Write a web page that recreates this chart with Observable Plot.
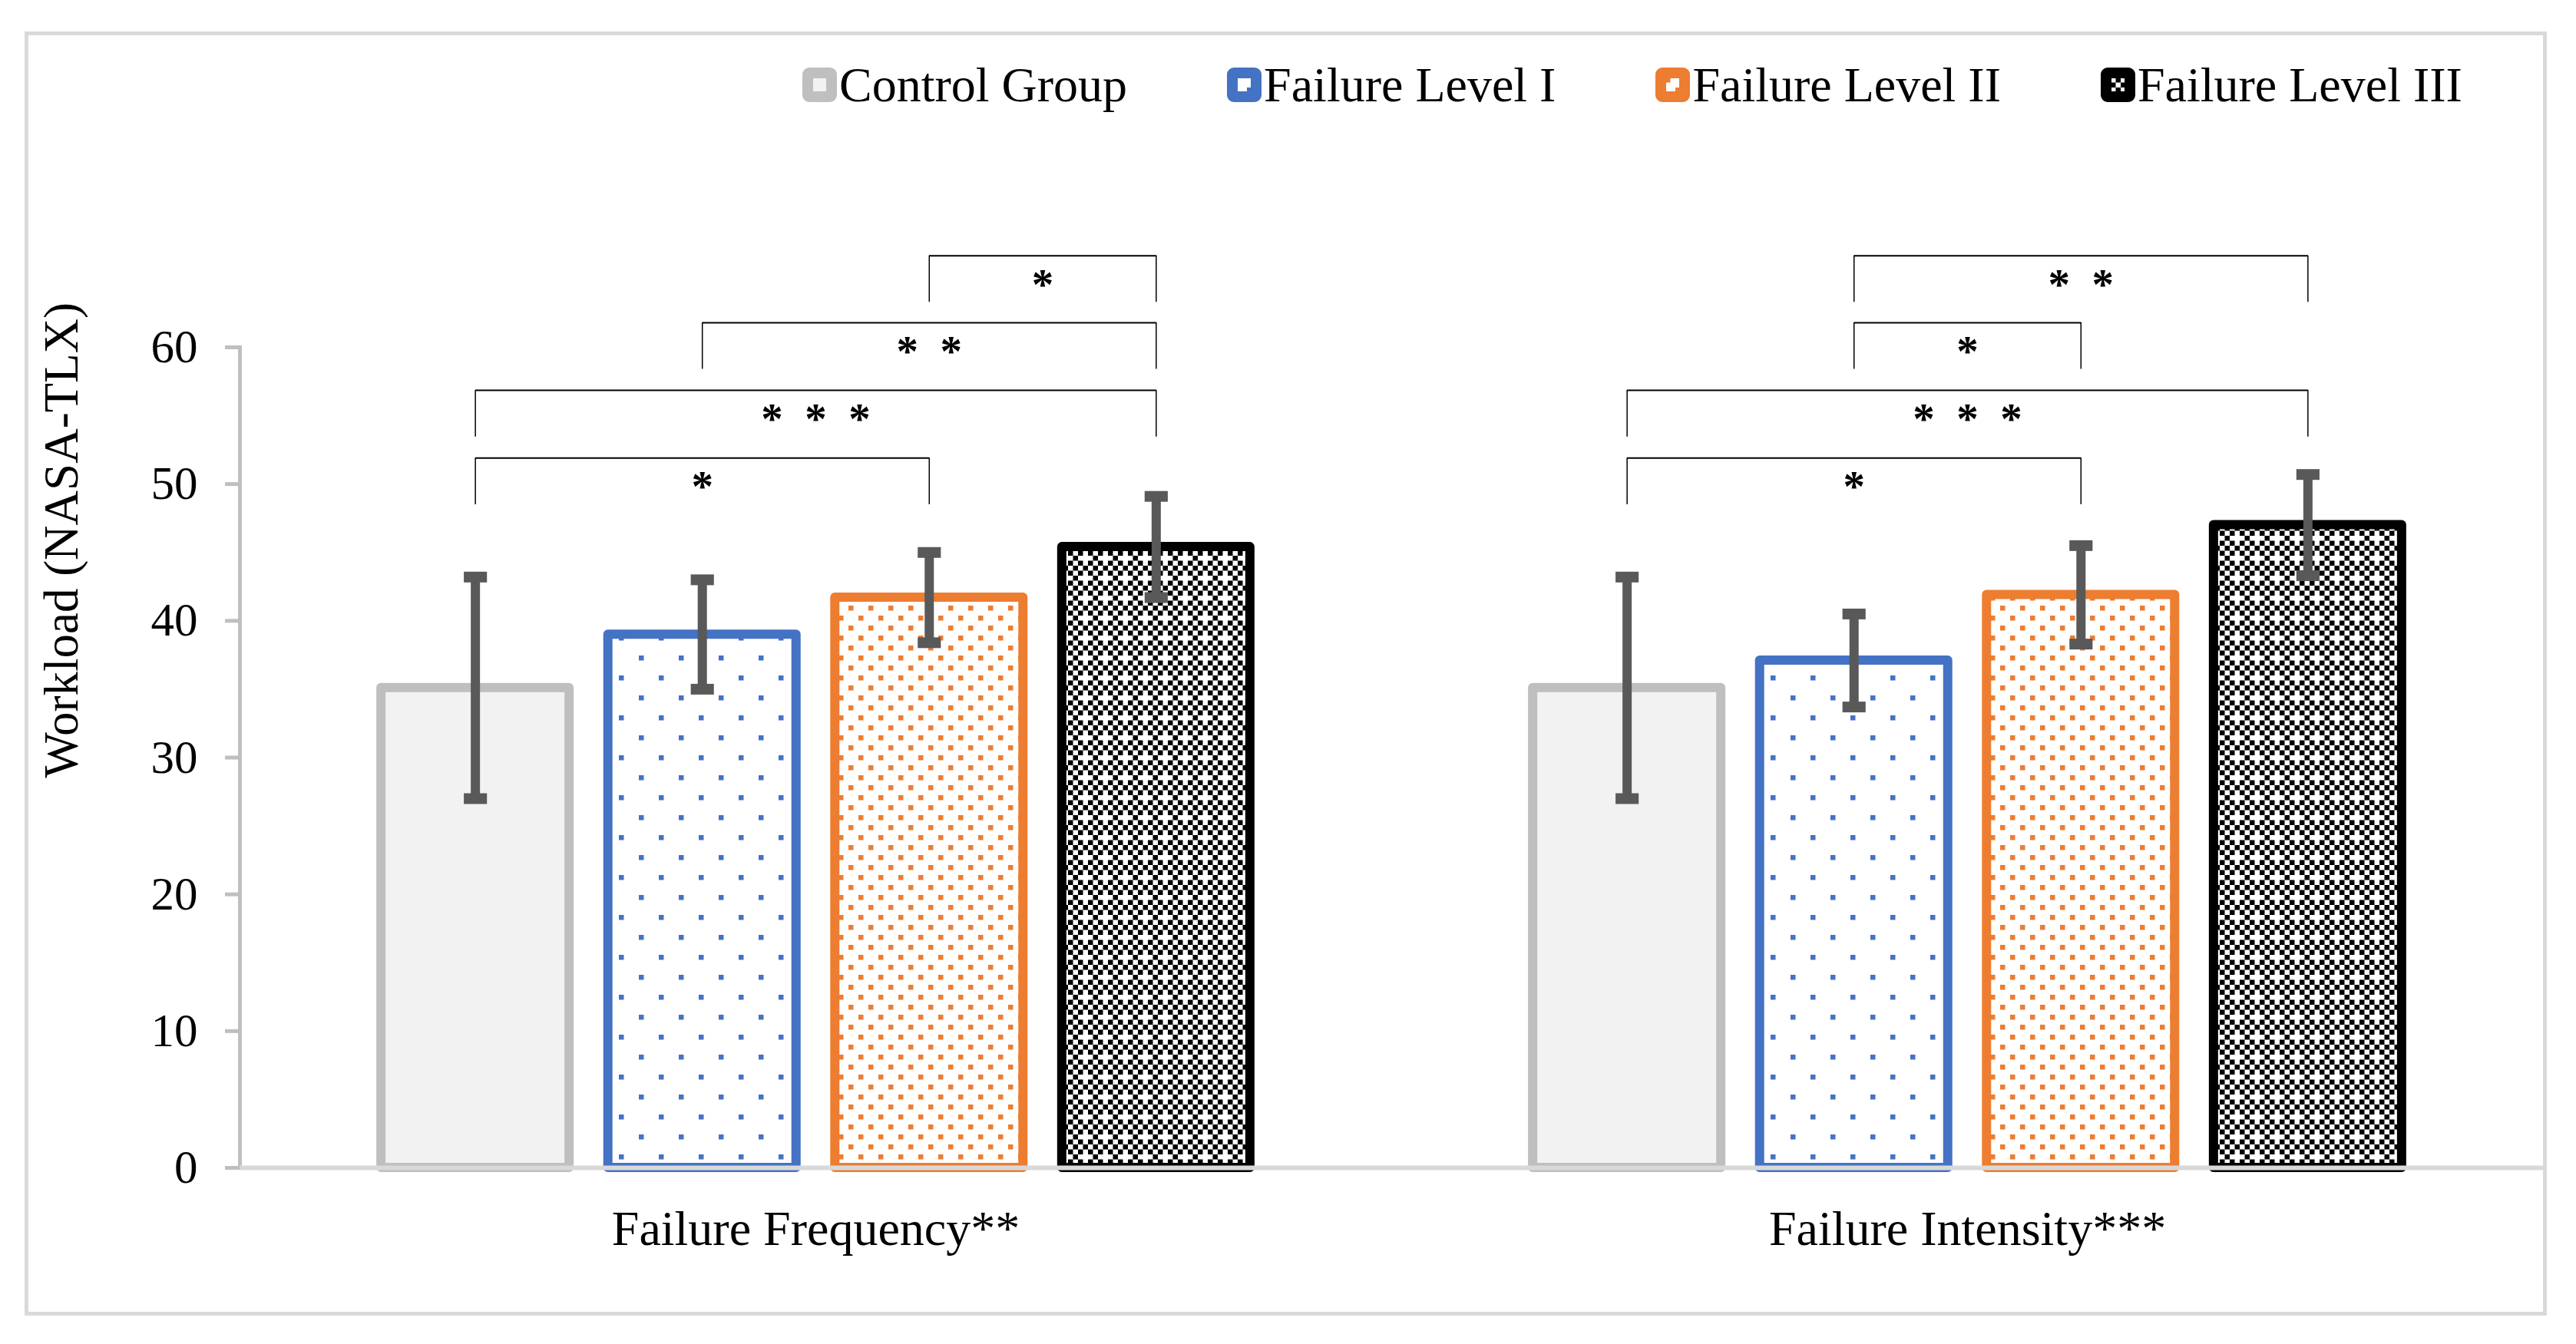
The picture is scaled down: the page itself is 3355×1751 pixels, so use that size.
<!DOCTYPE html>
<html>
<head>
<meta charset="utf-8">
<script src="https://cdn.jsdelivr.net/npm/d3@7"></script>
<script src="https://cdn.jsdelivr.net/npm/@observablehq/plot@0.6"></script>
<style>
  html, body { margin: 0; padding: 0; background: #fff; }
  body { width: 3355px; height: 1751px; position: relative; overflow: hidden;
         font-family: "Liberation Serif", "Times New Roman", serif; }
  #frame { position: absolute; left: 32px; top: 41px; width: 3285px; height: 1673px;
           border: 5px solid #d9d9d9; box-sizing: border-box; pointer-events: none; }
  #legend { position: relative; height: 230px; }
  #legend .items { position: absolute; left: 1045px; top: 88px; height: 45px;
                   display: flex; align-items: center; gap: 130px; }
  .item { display: flex; align-items: center; gap: 3px; font-size: 64px; line-height: 1;
          color: #000; white-space: nowrap; }
  .item svg { display: block; }
  #chart svg { display: block; }
</style>
</head>
<body>
<div id="frame"></div>
<svg id="defs" width="0" height="0" style="position:absolute;left:0;top:0"><defs></defs></svg>
<div id="legend"><div class="items"></div></div>
<div id="chart"></div>
<script>
// ---------------- data ----------------
const categories = ["Failure Frequency**", "Failure Intensity***"];
const series = ["Control Group", "Failure Level I", "Failure Level II", "Failure Level III"];
const frequencyMeans = [35.1, 39.0, 41.7, 45.4];
const frequencySD    = [8.1, 4.0, 3.3, 3.7];
const intensityMeans = [35.1, 37.1, 41.9, 47.0];
const intensitySD    = [8.1, 3.4, 3.6, 3.7];
const yTicks = [0, 10, 20, 30, 40, 50, 60];
const yLabel = "Workload (NASA-TLX)";

// significance brackets (category, from series, to series, bracket level, number of stars)
const bracketCategory = ["Failure Frequency**", "Failure Frequency**", "Failure Frequency**", "Failure Frequency**",
                         "Failure Intensity***", "Failure Intensity***", "Failure Intensity***", "Failure Intensity***"];
const bracketFrom  = ["Failure Level II", "Failure Level I", "Control Group", "Control Group",
                      "Failure Level I", "Failure Level I", "Control Group", "Control Group"];
const bracketTo    = ["Failure Level III", "Failure Level III", "Failure Level III", "Failure Level II",
                      "Failure Level III", "Failure Level II", "Failure Level III", "Failure Level II"];
const bracketLevel = [66.7, 61.8, 56.85, 51.9, 66.7, 61.8, 56.85, 51.9];
const bracketStars = [1, 2, 3, 1, 2, 1, 3, 1];

// ---------------- styles ----------------
const strokeColors = ["#bfbfbf", "#4472c4", "#ed7d31", "#000000"];
const fillColors = ["#f2f2f2", "url(#pat-blue)", "url(#pat-orange)", "url(#pat-black)"];

// patterns
const defs = d3.select("#defs defs");
const u = 6.5;
function pattern(id, n) {
  const p = defs.append("pattern").attr("id", id).attr("patternUnits", "userSpaceOnUse")
    .attr("width", n * u).attr("height", n * u);
  p.append("rect").attr("width", n * u).attr("height", n * u).attr("fill", "#fff");
  return p;
}
function cell(p, cx, cy, color) {
  p.append("rect").attr("x", cx * u).attr("y", cy * u).attr("width", u).attr("height", u).attr("fill", color);
}
const pBlue = pattern("pat-blue", 8);
cell(pBlue, 0, 0, "#4472c4"); cell(pBlue, 4, 4, "#4472c4");
const pOrange = pattern("pat-orange", 4);
cell(pOrange, 0, 0, "#ed7d31"); cell(pOrange, 2, 2, "#ed7d31");
const pBlack = pattern("pat-black", 8);
const gaps = [[1, 0], [5, 0], [1, 4], [5, 4]]; // white "plus" gaps in the checker
for (let x = 0; x < 8; x++) for (let y = 0; y < 8; y++) {
  if ((x + y) % 2 !== 1) continue;
  if (gaps.some(([gx, gy]) => gx === x && gy === y)) continue;
  cell(pBlack, x, y, "#000");
}

// ---------------- legend ----------------
const items = d3.select("#legend .items");
series.forEach((s, i) => {
  const it = items.append("div").attr("class", "item");
  const sw = it.append("svg").attr("width", 45).attr("height", 45);
  sw.append("rect").attr("x", 7).attr("y", 7).attr("width", 31).attr("height", 31).attr("rx", 2)
    .attr("fill", fillColors[i]).attr("stroke", strokeColors[i]).attr("stroke-width", 14);
  it.append("span").text(s);
});

// ---------------- rows ----------------
const rows = [];
categories.forEach((c, ci) => series.forEach((s, i) => rows.push({
  category: c, series: s, i,
  mean: ci === 0 ? frequencyMeans[i] : intensityMeans[i],
  sd: ci === 0 ? frequencySD[i] : intensitySD[i]
})));
const brackets = bracketCategory.map((c, k) => ({
  category: c, from: series.indexOf(bracketFrom[k]), to: series.indexOf(bracketTo[k]),
  level: bracketLevel[k], stars: bracketStars[k]
}));

const halfBar = 0.4145, capHalf = 0.051, legLen = 3.4;
const pos = d => d.i + 0.5;

const chart = Plot.plot({
  width: 3355, height: 1470,
  marginLeft: 312, marginRight: 43, marginTop: 222, marginBottom: 179,
  style: { fontFamily: '"Liberation Serif", "Times New Roman", serif', background: "white", color: "black", overflow: "visible" },
  fx: { domain: categories, padding: 0, label: null },
  x: { type: "linear", domain: [-0.5375, 4.5375], axis: null },
  y: { domain: [0, 60] },
  color: { type: "identity" },
  marks: [
    Plot.frame({ anchor: "left", stroke: "#bfbfbf", strokeWidth: 5, facetAnchor: "left" }),
    Plot.axisY({ ticks: yTicks, tickSize: 19, tickPadding: 36, stroke: "#bfbfbf", strokeWidth: 5,
                 fill: "black", fontSize: 61, label: null, tickFormat: d => String(d) }),
    Plot.text([yLabel], { fx: () => categories[0], text: d => d, y: () => 45.9, frameAnchor: "left",
                          textAnchor: "middle", dx: -232, rotate: -90, fontSize: 63, fill: "black" }),
    Plot.axisFx({ anchor: "bottom", tickSize: 0, tickPadding: 55, fontSize: 64, label: null, fill: "black" }),
    Plot.rect(rows, { fx: "category", x1: d => pos(d) - halfBar, x2: d => pos(d) + halfBar, y1: 0, y2: "mean",
                      fill: d => fillColors[d.i], stroke: d => strokeColors[d.i], strokeWidth: 12, strokeLinejoin: "round" }),
    Plot.ruleY([0], { stroke: "#d9d9d9", strokeWidth: 6 }),
    Plot.ruleX(rows, { fx: "category", x: pos, y1: d => d.mean - d.sd, y2: d => d.mean + d.sd,
                       stroke: "#595959", strokeWidth: 12 }),
    Plot.link(rows, { fx: "category", x1: d => pos(d) - capHalf, x2: d => pos(d) + capHalf,
                      y1: d => d.mean + d.sd, y2: d => d.mean + d.sd, stroke: "#595959", strokeWidth: 14 }),
    Plot.link(rows, { fx: "category", x1: d => pos(d) - capHalf, x2: d => pos(d) + capHalf,
                      y1: d => d.mean - d.sd, y2: d => d.mean - d.sd, stroke: "#595959", strokeWidth: 14 }),
    Plot.link(brackets, { fx: "category", x1: d => d.from + 0.5, x2: d => d.to + 0.5, y1: "level", y2: "level",
                          stroke: "black", strokeWidth: 2 }),
    Plot.ruleX(brackets, { fx: "category", x: d => d.from + 0.5, y1: "level", y2: d => d.level - legLen,
                           stroke: "black", strokeWidth: 1.5 }),
    Plot.ruleX(brackets, { fx: "category", x: d => d.to + 0.5, y1: "level", y2: d => d.level - legLen,
                           stroke: "black", strokeWidth: 1.5 }),
    Plot.text(brackets, { fx: "category", x: d => (d.from + d.to) / 2 + 0.5, y: d => d.level - legLen / 2 - 0.45,
                          text: d => Array(d.stars).fill("*").join("\u00a0\u00a0"),
                          fontSize: 57, fontWeight: "bold", fill: "black" })
  ]
});
document.getElementById("chart").appendChild(chart);
</script>
</body>
</html>
